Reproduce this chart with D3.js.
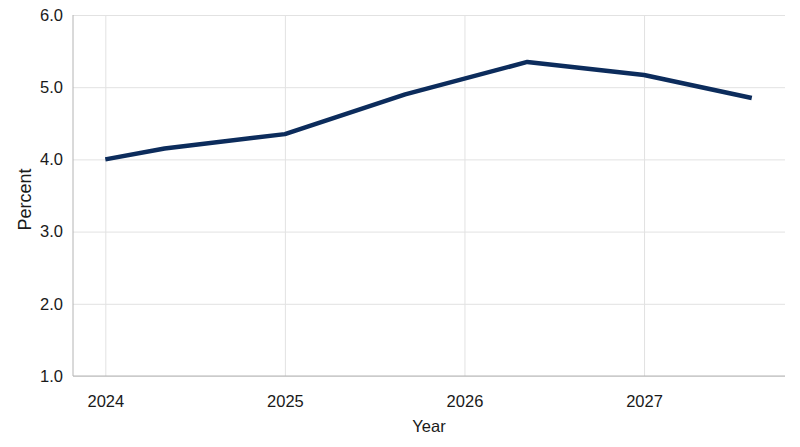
<!DOCTYPE html>
<html>
<head>
<meta charset="utf-8">
<script src="https://cdn.jsdelivr.net/npm/d3@7"></script>
<style>
	body { margin: 0; background: #fff; }
	text { font-family: 'Liberation Sans', Arial, sans-serif; fill: #1a1a1a; }
	.grid line { stroke: #e2e2e2; stroke-width: 1; }
	.grid .domain { display: none; }
</style>
</head>
<body>
<div id="chart"></div>
<script>
let width = 800
let height = 447

let margins = {
	'top': 15,
	'right': 15,
	'bottom': 71,
	'left': 73,
}

// data (decimal year, percent)
let years = [2024.0, 2024.33, 2025.0, 2025.67, 2026.35, 2027.0, 2027.6]
let values = [4.00, 4.15, 4.35, 4.90, 5.35, 5.17, 4.85]
let xTicks = [2024, 2025, 2026, 2027]
let yTicks = [1.0, 2.0, 3.0, 4.0, 5.0, 6.0]

let innerW = width - margins.left - margins.right
let innerH = height - margins.top - margins.bottom

let xScale = d3.scaleLinear()
	.domain([2023.82, 2027.785])
	.range([0, innerW])

let yScale = d3.scaleLinear()
	.domain([1, 6])
	.range([innerH, 0])

let svg = d3.select('#chart').append('svg')
	.attr('width', width)
	.attr('height', height)

let inner = svg.append('g')
	.attr('transform', 'translate(' + margins.left + ',' + margins.top + ')')

// gridlines
inner.append('g')
	.attr('class', 'grid')
	.call(d3.axisLeft(yScale).tickValues(yTicks).tickSize(-innerW).tickFormat(''))

inner.append('g')
	.attr('class', 'grid')
	.call(d3.axisBottom(xScale).tickValues(xTicks).tickSize(innerH).tickFormat(''))

// axis lines
inner.append('line')
	.attr('x1', 0).attr('x2', 0)
	.attr('y1', 0).attr('y2', innerH)
	.attr('stroke', '#b4b4b4')
inner.append('line')
	.attr('x1', 0).attr('x2', innerW)
	.attr('y1', innerH).attr('y2', innerH)
	.attr('stroke', '#b4b4b4')

// tick labels
let yAxis = d3.axisLeft(yScale)
	.tickValues(yTicks)
	.tickSize(0)
	.tickPadding(10)
	.tickFormat(d3.format('.1f'))

inner.append('g').call(yAxis)
	.call(g => g.select('.domain').remove())
	.selectAll('text')
	.style('font-size', '16.5px')
	.attr('fill', '#1a1a1a')

let xAxis = d3.axisBottom(xScale)
	.tickValues(xTicks)
	.tickSize(0)
	.tickPadding(19)
	.tickFormat(d3.format('d'))

inner.append('g')
	.attr('transform', `translate(0,${innerH})`)
	.call(xAxis)
	.call(g => g.select('.domain').remove())
	.selectAll('text')
	.style('font-size', '16.5px')
	.attr('fill', '#1a1a1a')

// axis titles
svg.append('text')
	.attr('x', margins.left + innerW / 2)
	.attr('y', 432)
	.attr('text-anchor', 'middle')
	.style('font-size', '16.5px')
	.text('Year')

svg.append('text')
	.attr('transform', 'translate(31,199.5) rotate(-90)')
	.attr('text-anchor', 'middle')
	.style('font-size', '18px')
	.text('Percent')

// the line
let line = d3.line()
	.x((d, i) => xScale(years[i]))
	.y(d => yScale(d))

inner.append('path')
	.datum(values)
	.attr('d', line)
	.attr('fill', 'none')
	.attr('stroke', '#0c2c5c')
	.attr('stroke-width', 4.5)
	.attr('stroke-linejoin', 'round')
</script>
</body>
</html>
